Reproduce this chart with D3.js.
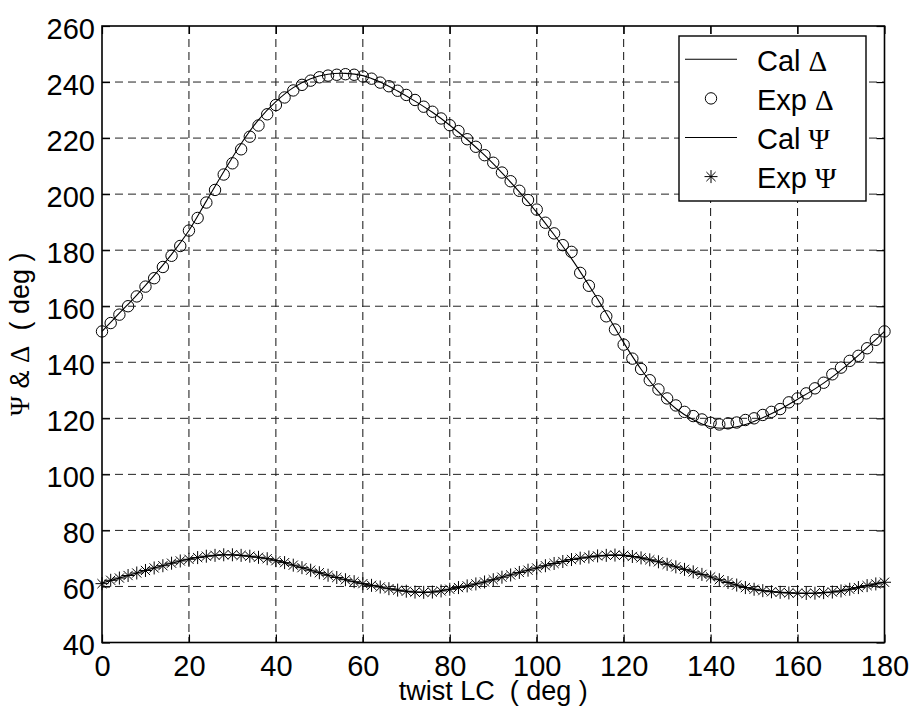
<!DOCTYPE html>
<html>
<head>
<meta charset="utf-8">
<script src="https://cdn.jsdelivr.net/npm/d3@7"></script>
<style>
  body { margin: 0; background: #fff; }
  svg { display: block; }
  text { font-family: "Liberation Sans", Arial, sans-serif; fill: #000; white-space: pre; }
  .greek { font-family: "Liberation Serif", "Times New Roman", serif; }
</style>
</head>
<body>
<div id="wrapper"></div>
<script>
// measured points every 2 deg, calculated curves every 4 deg
let expAngles = d3.range(0, 181, 2);
let calAngles = d3.range(0, 181, 4);

let expDelta = [151, 154, 157, 160, 163.5, 167, 170, 174, 178, 181.5,
    187, 191.5, 197, 201.5, 207, 211, 216, 220.5, 224.5, 228.5,
    231.8, 234.5, 237, 239, 240.5, 241.7, 242.3, 242.6, 242.8, 242.6,
    242, 241.2, 239.8, 238.5, 236.9, 235.4, 233.6, 231.2, 229.4, 227,
    224.6, 222.5, 219.6, 216.9, 213.9, 211.2, 207.7, 204.6, 201.2, 197.9,
    194.5, 189.8, 186, 181.8, 179.4, 171.9, 167.3, 161.8, 156.4, 151.7,
    146.3, 141.3, 137.6, 133.6, 130.3, 127.1, 124.6, 122.3, 120.8, 119.6,
    118.4, 117.8, 118.2, 118.5, 119.4, 120, 121.2, 122.3, 123.3, 125.7,
    127.1, 128.9, 130.7, 132.7, 135.7, 138.1, 140.5, 142.3, 145, 148, 151];

let calDelta = [151, 157.5, 164, 171, 178.5, 187, 197.5, 208, 218, 226.5,
    233, 238, 241.2, 242.8, 243.1, 242.3, 240, 236.8, 233.2, 229.2,
    224.6, 219.5, 213.9, 207.6, 200.8, 193.5, 185.5, 177, 167.5, 157.5,
    147, 137.5, 129.5, 123.5, 119.5, 117, 116.5, 117.8, 120.2, 123.2,
    126.8, 130.5, 134.8, 139.8, 145.2, 151];

let expPsi = [61.0, 62.2, 63.0, 63.9, 64.8, 65.7, 66.6, 67.4, 68.3, 69.1,
    69.7, 70.3, 70.8, 71.1, 71.3, 71.3, 71.1, 70.8, 70.4, 69.9,
    69.2, 68.5, 67.6, 66.7, 65.8, 64.9, 64.0, 63.2, 62.4, 61.7,
    61.0, 60.4, 59.8, 59.2, 58.7, 58.3, 58.0, 57.9, 58.0, 58.4,
    59.0, 59.6, 60.2, 60.9, 61.6, 62.4, 63.3, 64.1, 65.0, 65.8,
    66.6, 67.4, 68.2, 68.9, 69.6, 70.1, 70.5, 70.9, 71.1, 71.2,
    71.1, 70.7, 70.2, 69.5, 68.8, 67.9, 67.0, 66.1, 65.2, 64.3,
    63.4, 62.4, 61.4, 60.5, 59.6, 59.0, 58.5, 58.1, 57.9, 57.7,
    57.6, 57.5, 57.6, 57.8, 58.0, 58.4, 59.0, 59.6, 60.3, 60.9, 61.5];

let calPsi = [61.2, 63.0, 64.8, 66.6, 68.3, 69.8, 70.8, 71.3, 71.1, 70.4,
    69.3, 67.6, 65.8, 64.0, 62.4, 61.0, 59.8, 58.7, 58.0, 58.0,
    59.0, 60.2, 61.6, 63.3, 65.0, 66.6, 68.2, 69.6, 70.5, 71.1,
    71.1, 70.2, 68.8, 67.0, 65.2, 63.4, 61.4, 59.6, 58.5, 57.9,
    57.6, 57.6, 58.0, 59.0, 60.3, 61.6];

let xTicks = d3.range(0, 181, 20);
let yTicks = d3.range(40, 261, 20);

let W = 914, H = 709;
let pL = 102, pR = 884.5, pT = 26, pB = 642.5;

let x = d3.scaleLinear().domain([0, 180]).range([pL, pR]);
let y = d3.scaleLinear().domain([40, 260]).range([pB, pT]);

let svg = d3.select('#wrapper')
    .append('svg')
    .attr('width', W)
    .attr('height', H);

// grid
let grid = svg.append('g');
grid.selectAll('line.vg')
    .data(xTicks.slice(1, -1))
    .enter()
    .append('line')
    .attr('x1', d => x(d)).attr('x2', d => x(d))
    .attr('y1', pT).attr('y2', pB)
    .style('stroke', '#111').style('stroke-width', 1)
    .style('stroke-dasharray', '8,5');
grid.selectAll('line.hg')
    .data(yTicks.slice(1, -1))
    .enter()
    .append('line')
    .attr('x1', pL).attr('x2', pR)
    .attr('y1', d => y(d)).attr('y2', d => y(d))
    .style('stroke', '#222').style('stroke-width', 1)
    .style('stroke-dasharray', '8,5');

// axes with inward ticks
let fs = 29;
let xAxis = svg.append('g')
    .attr('transform', 'translate(0,' + pB + ')')
    .call(d3.axisBottom(x).tickValues(xTicks).tickSize(-8).tickPadding(13).tickFormat(d3.format('d')));
let yAxis = svg.append('g')
    .attr('transform', 'translate(' + pL + ',0)')
    .call(d3.axisLeft(y).tickValues(yTicks).tickSize(-8).tickPadding(7).tickFormat(d3.format('d')));
svg.append('g')
    .attr('transform', 'translate(0,' + pT + ')')
    .call(d3.axisTop(x).tickValues(xTicks).tickSize(-8).tickFormat(''));
svg.append('g')
    .attr('transform', 'translate(' + pR + ',0)')
    .call(d3.axisRight(y).tickValues(yTicks).tickSize(-8).tickFormat(''));

svg.selectAll('.domain').remove();
svg.selectAll('.tick line').style('stroke', '#000').style('stroke-width', 1.2);
[xAxis, yAxis].forEach(function (a) {
    a.selectAll('text')
        .style('font-family', '"Liberation Sans", Arial, sans-serif')
        .style('font-size', fs + 'px')
        .style('fill', '#000');
});
yAxis.selectAll('text').attr('dy', '0.32em').attr('y', 3);

svg.append('rect')
    .attr('x', pL).attr('y', pT)
    .attr('width', pR - pL).attr('height', pB - pT)
    .style('fill', 'none').style('stroke', '#000').style('stroke-width', 1.6);

// curves
let calLine = d3.line()
    .x((d, i) => x(calAngles[i]))
    .y(d => y(d))
    .curve(d3.curveCatmullRom);

svg.append('path').datum(calDelta)
    .attr('d', calLine)
    .style('fill', 'none').style('stroke', '#000').style('stroke-width', 1.1);
svg.append('path').datum(calPsi)
    .attr('d', calLine)
    .style('fill', 'none').style('stroke', '#000').style('stroke-width', 1.1);

function star(s) {
    let d = s * 0.7071;
    return 'M' + (-s) + ',0H' + s + 'M0,' + (-s) + 'V' + s +
        'M' + (-d) + ',' + (-d) + 'L' + d + ',' + d +
        'M' + (-d) + ',' + d + 'L' + d + ',' + (-d);
}

svg.append('g')
    .selectAll('circle')
    .data(expDelta)
    .enter()
    .append('circle')
    .attr('cx', (d, i) => x(expAngles[i]))
    .attr('cy', d => y(d))
    .attr('r', 5.7)
    .style('fill', 'none').style('stroke', '#000').style('stroke-width', 1);

svg.append('g')
    .selectAll('path')
    .data(expPsi)
    .enter()
    .append('path')
    .attr('transform', (d, i) => 'translate(' + x(expAngles[i]) + ',' + y(d) + ')')
    .attr('d', star(6.5))
    .style('fill', 'none').style('stroke', '#000').style('stroke-width', 1);

// legend
let lg = { x0: 679, x1: 866, y0: 36, y1: 201 };
let rows = [
    { name: 'Cal ', sym: '\u0394', kind: 'line' },
    { name: 'Exp ', sym: '\u0394', kind: 'circle' },
    { name: 'Cal ', sym: '\u03A8', kind: 'line' },
    { name: 'Exp ', sym: '\u03A8', kind: 'star' }
];
let leg = svg.append('g');
leg.append('rect')
    .attr('x', lg.x0).attr('y', lg.y0)
    .attr('width', lg.x1 - lg.x0).attr('height', lg.y1 - lg.y0)
    .style('fill', '#fff').style('stroke', '#000').style('stroke-width', 1.4);

rows.forEach(function (r, i) {
    let cy = 59.3 + i * 39.1;
    if (r.kind == 'line') {
        leg.append('line')
            .attr('x1', 685).attr('x2', 737).attr('y1', cy).attr('y2', cy)
            .style('stroke', '#000').style('stroke-width', 1.1);
    } else if (r.kind == 'circle') {
        leg.append('circle')
            .attr('cx', 711).attr('cy', cy).attr('r', 5.7)
            .style('fill', 'none').style('stroke', '#000');
    } else {
        leg.append('path')
            .attr('transform', 'translate(711,' + cy + ')')
            .attr('d', star(6.5))
            .style('fill', 'none').style('stroke', '#000');
    }
    let t = leg.append('text')
        .attr('x', 757).attr('y', cy + 11.5)
        .style('font-size', fs + 'px');
    t.append('tspan').text(r.name);
    t.append('tspan').attr('class', 'greek').text(r.sym);
});

// axis titles
svg.append('text')
    .attr('x', (pL + pR) / 2).attr('y', 700)
    .attr('text-anchor', 'middle')
    .style('font-size', '27px')
    .text('twist LC  ( deg )');

let yl = svg.append('text')
    .attr('transform', 'translate(29,' + ((pT + pB) / 2) + ') rotate(-90)')
    .attr('text-anchor', 'middle')
    .style('font-size', '27px');
yl.append('tspan').attr('class', 'greek').text('\u03A8');
yl.append('tspan').text(' & ');
yl.append('tspan').attr('class', 'greek').text('\u0394');
yl.append('tspan').text('  ( deg )');
</script>
</body>
</html>
